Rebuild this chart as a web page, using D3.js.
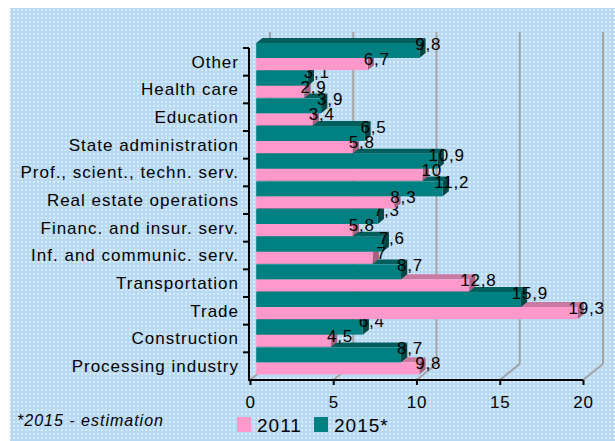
<!DOCTYPE html>
<html>
<head>
<meta charset="utf-8">
<script src="https://cdn.jsdelivr.net/npm/d3@7"></script>
<style>
  body { margin: 0; background: #fff; }
  text { font-family: "Liberation Sans", Arial, sans-serif; fill: #000; }
</style>
</head>
<body>
<script>
// data, top to bottom as shown
var categories = ["Other", "Health care", "Education", "State administration",
  "Prof., scient., techn. serv.", "Real estate operations", "Financ. and insur. serv.",
  "Inf. and communic. serv.", "Transportation", "Trade", "Construction", "Processing industry"];
var values2011 = [6.7, 2.9, 3.4, 5.8, 10, 8.3, 5.8, 7, 12.8, 19.3, 4.5, 9.8];
var values2015 = [9.8, 3.1, 3.9, 6.5, 10.9, 11.2, 7.3, 7.6, 8.7, 15.9, 6.4, 8.7];
var xTicks = [0, 5, 10, 15, 20];
var seriesNames = ["2011", "2015*"];

var width = 615, height = 441;
var depth = {x: 20, y: -16};     // full wall depth
var f1 = 0.31, f2 = 0.62;        // bar front / back depth fractions

var svg = d3.select("body").append("svg")
    .attr("width", width)
    .attr("height", height);

// dotted blue background
var defs = svg.append("defs");
var pat = defs.append("pattern")
    .attr("id", "dots")
    .attr("width", 4).attr("height", 4)
    .attr("patternUnits", "userSpaceOnUse");
pat.append("rect").attr("width", 4).attr("height", 4).attr("fill", "#b8d9f4");
pat.append("rect").attr("x", 1).attr("y", 1).attr("width", 2).attr("height", 2).attr("fill", "#d9ecfc");
svg.append("rect")
    .attr("x", 10).attr("y", 8)
    .attr("width", width - 10).attr("height", height - 8)
    .attr("fill", "url(#dots)");

// scales
var x = d3.scaleLinear().domain([0, 20]).range([250, 583]);
var y = d3.scaleBand().domain(categories).range([48, 380]).padding(0);
var floorY = 380;

// back wall gridlines + floor diagonals
var grid = svg.append("g");
xTicks.forEach(function(v) {
  var bx = x(v) + depth.x;
  grid.append("line")
      .attr("x1", bx).attr("x2", bx)
      .attr("y1", 48 + depth.y).attr("y2", floorY + depth.y)
      .attr("stroke", "#a3a3a3").attr("stroke-width", 2);
  grid.append("line")
      .attr("x1", x(v)).attr("y1", floorY)
      .attr("x2", bx).attr("y2", floorY + depth.y)
      .attr("stroke", "#a3a3a3").attr("stroke-width", 2);
});

var colors = {
  "2011": {front: "#ff99cc", top: "#c97aa1", side: "#a8617f"},
  "2015*": {front: "#008080", top: "#005f5c", side: "#004845"}
};

var ox = depth.x * f1, oy = depth.y * f1;
var dx = depth.x * (f2 - f1), dy = depth.y * (f2 - f1);
var hTeal = y.bandwidth() * 0.54, hPink = y.bandwidth() * 0.44;

function pts(a) { return a.map(function(p) { return p.join(","); }).join(" "); }

function drawBar(g, v, top, h, c) {
  var x0 = x(0) + ox, xe = x(v) + ox;
  var yt = top + oy, yb = top + h + oy;
  g.append("polygon")
      .attr("points", pts([[x0, yt], [xe, yt], [xe + dx, yt + dy], [x0 + dx, yt + dy]]))
      .attr("fill", c.top);
  g.append("polygon")
      .attr("points", pts([[xe, yt], [xe + dx, yt + dy], [xe + dx, yb + dy], [xe, yb]]))
      .attr("fill", c.side);
  g.append("rect")
      .attr("x", x0).attr("y", yt)
      .attr("width", xe - x0).attr("height", yb - yt)
      .attr("fill", c.front);
}

function fmt(v) { return String(v).replace(".", ","); }

function drawLabel(g, v, top) {
  g.append("text")
      .attr("x", x(v) + ox + 9)
      .attr("y", top + oy + 1)
      .attr("dy", "0.35em")
      .attr("text-anchor", "middle")
      .style("font-size", "17px")
      .style("letter-spacing", "0.8px")
      .text(fmt(v));
}

// bars drawn bottom to top so upper bars cover lower top faces
var bars = svg.append("g");
for (var i = categories.length - 1; i >= 0; i--) {
  var g = bars.append("g");
  var bt = y(categories[i]);
  drawBar(g, values2011[i], bt + hTeal, hPink, colors["2011"]);
  drawBar(g, values2015[i], bt, hTeal, colors["2015*"]);
  drawLabel(g, values2011[i], bt + hTeal);
  drawLabel(g, values2015[i], bt);
}

// x axis
var xAxis = svg.append("g")
    .attr("transform", "translate(0," + floorY + ")")
    .call(d3.axisBottom(x).tickValues(xTicks).tickSize(5).tickFormat(d3.format("d")));
xAxis.select(".domain").attr("stroke", "#000").attr("stroke-width", 2)
    .attr("d", "M248,0H" + x(20));
xAxis.selectAll(".tick line").attr("stroke", "#000").attr("stroke-width", 2);
xAxis.selectAll(".tick text")
    .attr("y", 16)
    .style("font-size", "17px")
    .style("letter-spacing", "0.8px")
    .attr("fill", "#000");

// category axis
var yAxis = svg.append("g");
yAxis.append("line")
    .attr("x1", 249).attr("x2", 249)
    .attr("y1", 48).attr("y2", floorY + 1)
    .attr("stroke", "#000").attr("stroke-width", 2);
categories.forEach(function(c) {
  yAxis.append("line")
      .attr("x1", 243).attr("x2", 249)
      .attr("y1", y(c)).attr("y2", y(c))
      .attr("stroke", "#000").attr("stroke-width", 2);
  yAxis.append("text")
      .attr("x", 239)
      .attr("y", y(c) + y.bandwidth() / 2)
      .attr("dy", "0.35em")
      .attr("text-anchor", "end")
      .style("font-size", "17px")
      .style("letter-spacing", "1px")
      .text(c);
});

// footnote
svg.append("text")
    .attr("x", 17).attr("y", 426)
    .style("font-size", "16px")
    .style("font-style", "italic")
    .style("letter-spacing", "1px")
    .text("*2015 - estimation");

// legend
var legend = svg.append("g");
var legX = [237, 314];
seriesNames.forEach(function(s, i) {
  legend.append("rect")
      .attr("x", legX[i]).attr("y", 417)
      .attr("width", 14).attr("height", 15)
      .attr("fill", colors[s].front);
  legend.append("text")
      .attr("x", legX[i] + 20).attr("y", 432)
      .style("font-size", "19px")
      .style("letter-spacing", "1px")
      .text(s);
});
</script>
</body>
</html>
